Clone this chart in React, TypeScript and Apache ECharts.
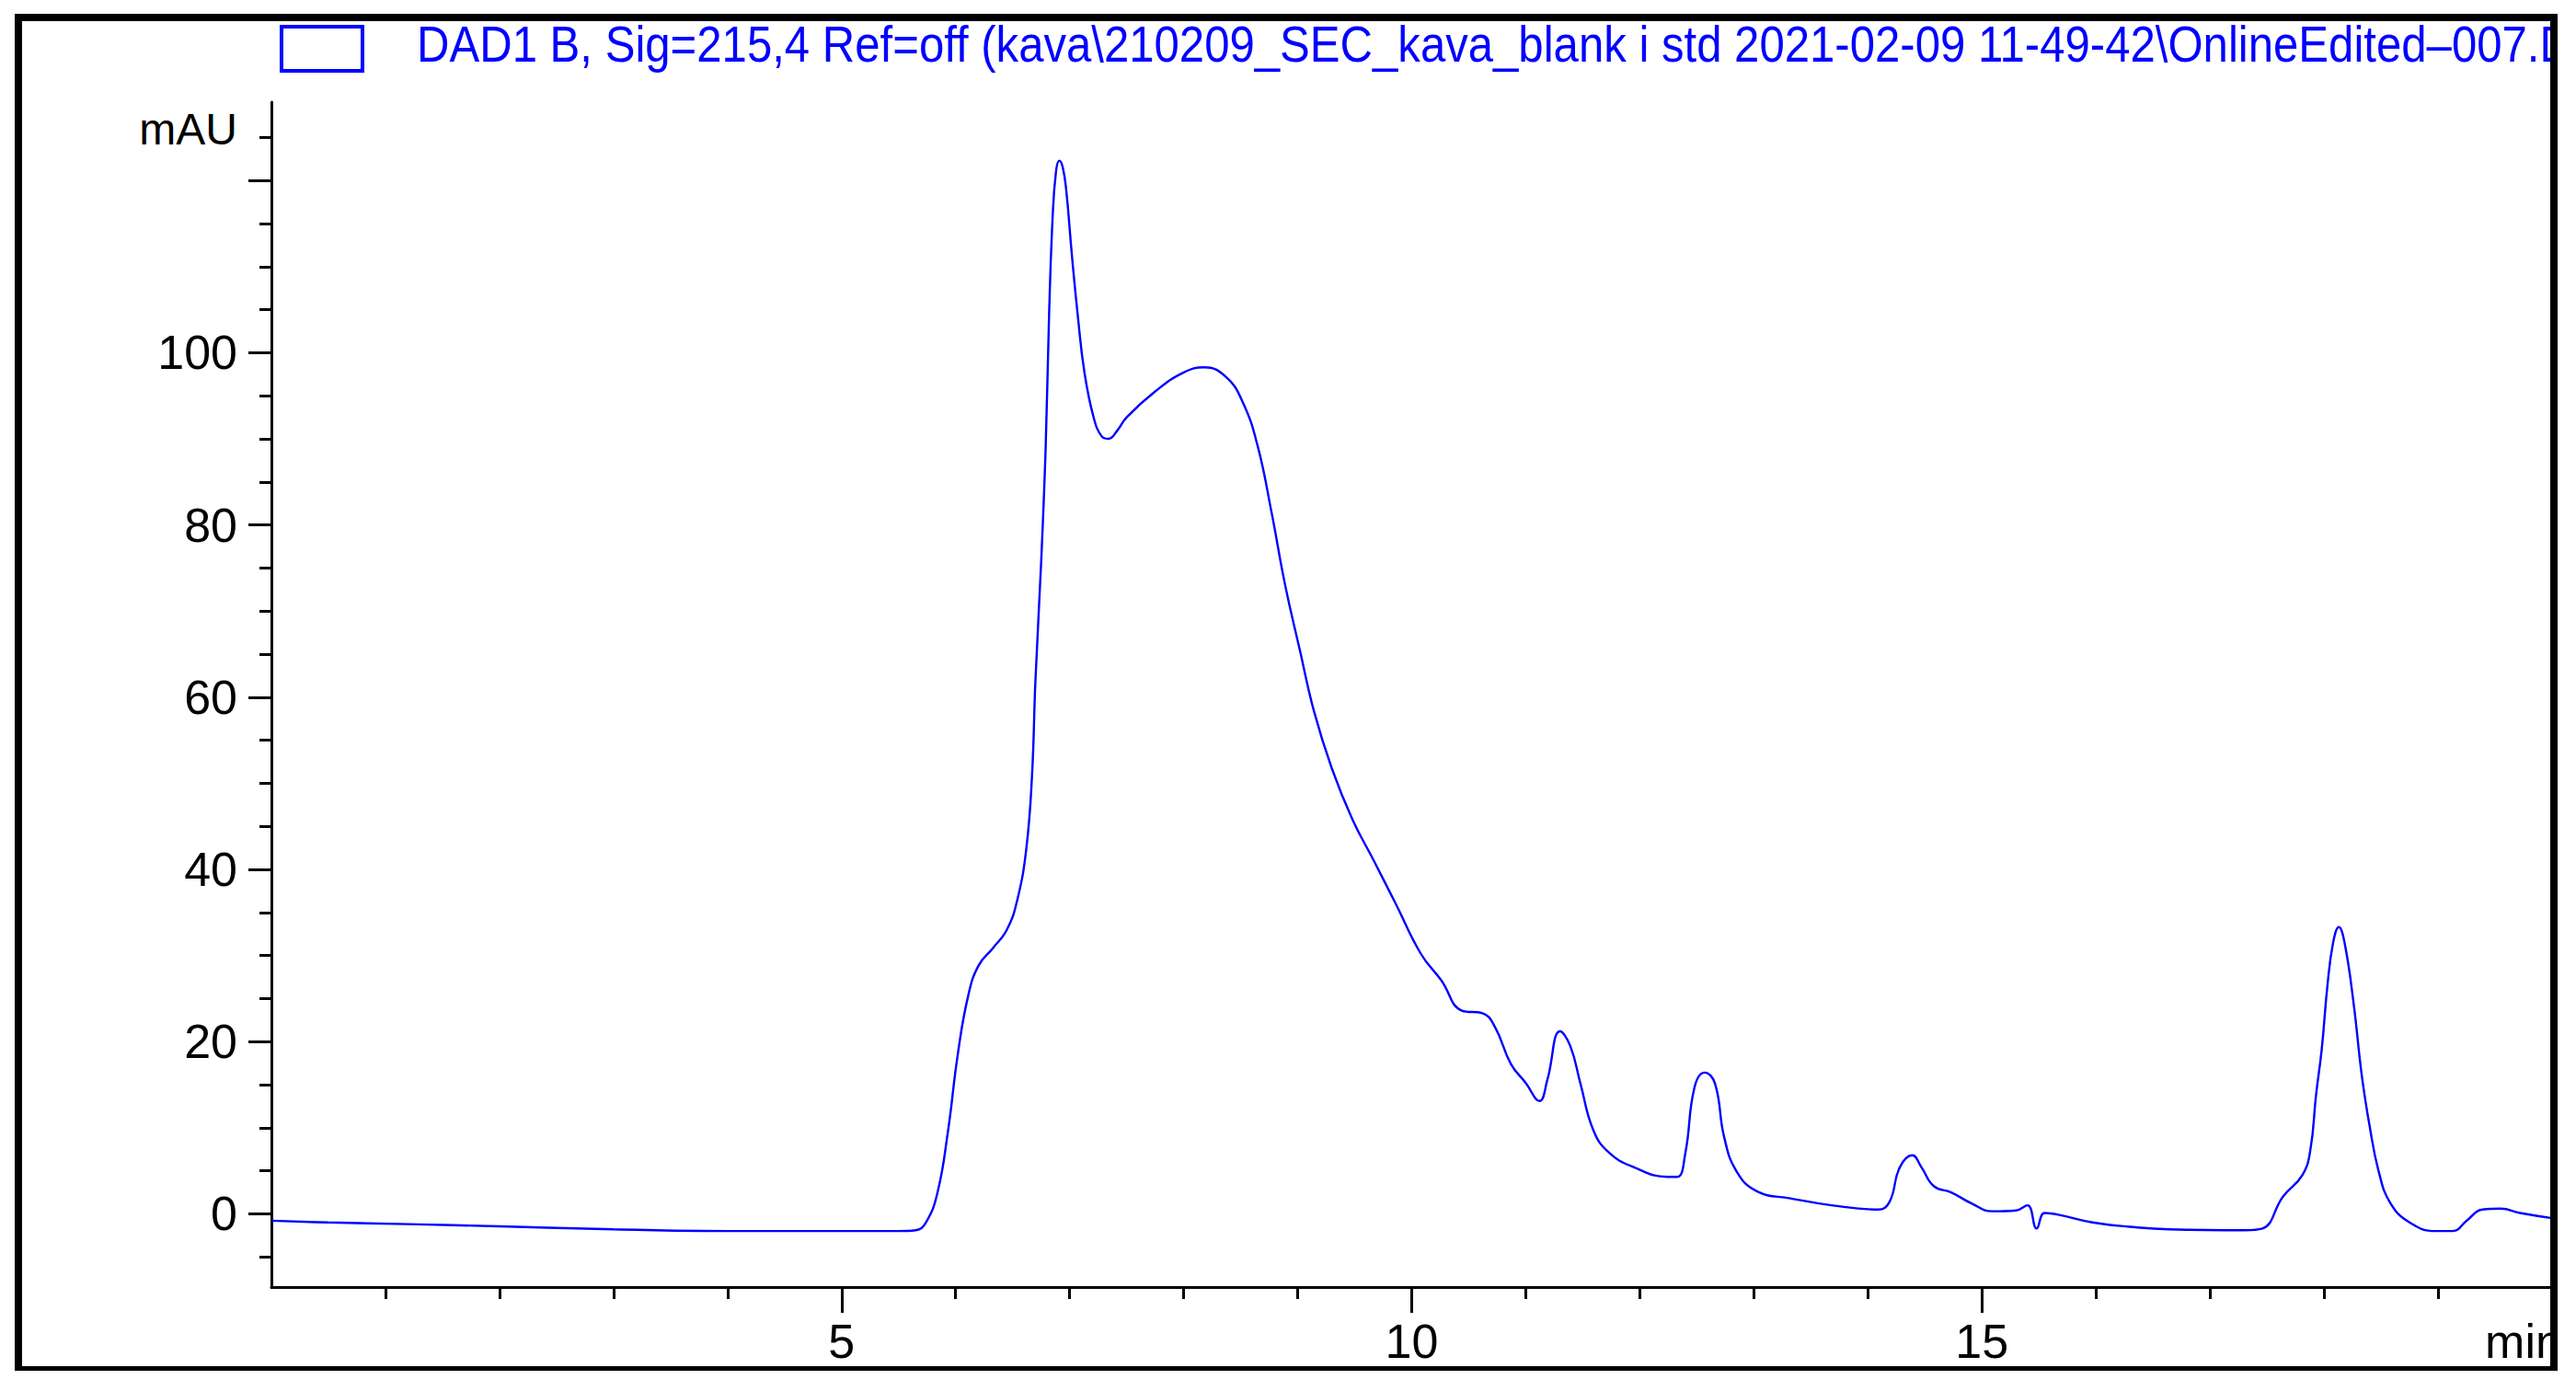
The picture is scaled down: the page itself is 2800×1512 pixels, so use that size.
import React, { useEffect, useRef } from "react";
import * as echarts from "echarts";

// Retention time (min) and detector response (mAU)
const retentionTime = [
  0.0, 0.5, 1.2, 2.0, 3.0, 4.0, 5.0, 5.5, 5.65, 5.74, 5.84, 5.93, 6.02, 6.11, 6.2, 6.33, 6.45, 6.54,
  6.62, 6.67, 6.7, 6.75, 6.79, 6.82, 6.85, 6.88, 6.91, 6.94, 6.97, 7.02, 7.07, 7.13, 7.21, 7.28,
  7.34, 7.42, 7.5, 7.75, 8.0, 8.18, 8.37, 8.52, 8.65, 8.77, 8.89, 9.02, 9.14, 9.3, 9.48, 9.66,
  9.86, 10.08, 10.26, 10.44, 10.62, 10.73, 10.87, 11.0, 11.12, 11.19, 11.3, 11.39, 11.48, 11.59,
  11.73, 11.95, 12.24, 12.33, 12.4, 12.48, 12.57, 12.66, 12.74, 12.85, 13.03, 13.32, 13.68, 14.09,
  14.19, 14.28, 14.39, 14.47, 14.58, 14.73, 14.91, 15.09, 15.3, 15.4, 15.48, 15.55, 15.67, 15.97,
  16.3, 16.64, 17.31, 17.46, 17.64, 17.81, 17.88, 17.93, 17.98, 18.03, 18.08, 18.13, 18.18, 18.26,
  18.33, 18.4, 18.48, 18.58, 18.75, 18.98, 19.13, 19.25, 19.39, 19.55, 19.72, 20.0,
];
const absorbance = [
  -0.8, -1.0, -1.2, -1.45, -1.8, -2.0, -2.0, -2.0, -1.9, -1.0, 2.4, 9.3, 18.6, 25.3, 28.8, 30.9, 33.0, 36.4,
  42.4, 50.9, 61.9, 75.6, 89.1, 104.5, 115.5, 121.0, 122.3, 121.5, 118.9, 111.3, 104.5, 97.7, 92.5, 90.3,
  90.0, 91.0, 92.5, 95.5, 97.7, 98.3, 97.2, 94.2, 89.1, 81.5, 73.0, 65.4, 58.5, 51.7, 45.8, 41.2,
  36.0, 30.2, 27.1, 23.6, 23.3, 21.7, 17.4, 15.2, 13.1, 15.6, 21.2, 19.5, 15.1, 9.8,
  7.1, 5.4, 4.3, 4.3, 7.1, 14.7, 16.4, 15.1, 8.9, 4.9, 2.6, 1.8, 1.0, 0.5,
  1.4, 5.4, 6.8, 5.4, 3.2, 2.5, 1.2, 0.3, 0.4, 1.0, -1.7, 0.1, -0.1, -1.0,
  -1.5, -1.8, -1.9, -1.7, 2.0, 4.5, 7.4, 13.8, 19.1, 26.5, 31.5, 33.3, 31.5, 24.4,
  16.2, 10.2, 4.9, 1.3, -1.0, -2.0, -2.0, -0.8, 0.5, 0.6, 0.1, -0.5,
];

// Axis ticks and labels
const yMajorTicks = [0, 20, 40, 60, 80, 100, 120];
const yMinorTicks = [-5, 5, 10, 15, 25, 30, 35, 45, 50, 55, 65, 70, 75, 85, 90, 95, 105, 110, 115, 125];
const yLabelValues = [0, 20, 40, 60, 80, 100, 126];
const xMajorTicks = [5, 10, 15];
const xMinorTicks = [1, 2, 3, 4, 6, 7, 8, 9, 11, 12, 13, 14, 16, 17, 18, 19];
const xLabelValues = [5, 10, 15, 19.75];
const yUnit = "mAU";
const xUnit = "min";
const yRange = [-8.5, 129.1];
const xRange = [0, 20];
const signalTitle =
  "DAD1 B, Sig=215,4 Ref=off (kava\\210209_SEC_kava_blank i std 2021-02-09 11-49-42\\OnlineEdited–007.D";

const FONT = "'Liberation Sans', Arial, Helvetica, sans-serif";
const BLUE = "#0000ff";

export default function App() {
  const ref = useRef<HTMLDivElement>(null);

  useEffect(() => {
    document.body.style.margin = "0";
    const chart = echarts.init(ref.current!, null, { renderer: "svg" });
    const seriesData = retentionTime.map((t, i) => [t, absorbance[i]]);

    const baseAxisLabel = {
      color: "#000",
      fontSize: 52,
      fontFamily: FONT,
    };

    chart.setOption({
      animation: false,
      backgroundColor: "#ffffff",
      grid: {
        left: 295,
        top: 111,
        right: 26,
        bottom: 113,
        containLabel: false,
        outerBoundsMode: "none",
      },
      xAxis: [
        {
          type: "value",
          min: xRange[0],
          max: xRange[1],
          position: "bottom",
          axisLine: { show: true, onZero: false, lineStyle: { color: "#000", width: 3 } },
          axisTick: {
            show: true,
            length: 28,
            customValues: xMajorTicks,
            lineStyle: { color: "#000", width: 3 },
          },
          axisLabel: {
            ...baseAxisLabel,
            margin: 33,
            customValues: xLabelValues,
            formatter: (v: number) => (v > 19 ? xUnit : String(v)),
          },
          splitLine: { show: false },
        },
        {
          type: "value",
          min: xRange[0],
          max: xRange[1],
          position: "bottom",
          axisLine: { show: false, onZero: false },
          axisTick: {
            show: true,
            length: 13,
            customValues: xMinorTicks,
            lineStyle: { color: "#000", width: 3 },
          },
          axisLabel: { show: false },
          splitLine: { show: false },
        },
      ],
      yAxis: [
        {
          type: "value",
          min: yRange[0],
          max: yRange[1],
          position: "left",
          axisLine: { show: true, onZero: false, lineStyle: { color: "#000", width: 3 } },
          axisTick: {
            show: true,
            length: 25,
            customValues: yMajorTicks,
            lineStyle: { color: "#000", width: 3 },
          },
          axisLabel: {
            ...baseAxisLabel,
            margin: 37,
            customValues: yLabelValues,
            formatter: (v: number) => (v > 120 ? "{u|" + yUnit + "}" : String(v)),
            rich: { u: { fontSize: 48, fontFamily: FONT, color: "#000" } },
          },
          splitLine: { show: false },
        },
        {
          type: "value",
          min: yRange[0],
          max: yRange[1],
          position: "left",
          axisLine: { show: false, onZero: false },
          axisTick: {
            show: true,
            length: 13,
            customValues: yMinorTicks,
            lineStyle: { color: "#000", width: 3 },
          },
          axisLabel: { show: false },
          splitLine: { show: false },
        },
      ],
      series: [
        {
          name: signalTitle,
          type: "line",
          xAxisIndex: 0,
          yAxisIndex: 0,
          data: seriesData,
          showSymbol: false,
          smooth: 0.45,
          lineStyle: { color: BLUE, width: 2.4 },
          itemStyle: { color: BLUE },
        },
      ],
      graphic: [
        {
          type: "rect",
          z: 100,
          shape: { x: 306, y: 29, width: 88, height: 48 },
          style: { fill: "#ffffff", stroke: BLUE, lineWidth: 4 },
        },
        {
          type: "text",
          z: 100,
          x: 453,
          y: 47,
          scaleX: 0.8765,
          scaleY: 1,
          style: {
            text: signalTitle,
            fill: BLUE,
            fontSize: 56,
            fontFamily: FONT,
            align: "left",
            verticalAlign: "middle",
            textAlign: "left",
            textVerticalAlign: "middle",
          },
        },
        // white margin outside the frame (clips overflowing text)
        { type: "rect", z: 110, shape: { x: 2780, y: 0, width: 20, height: 1512 }, style: { fill: "#ffffff" } },
        // outer frame
        { type: "rect", z: 120, shape: { x: 16, y: 15, width: 2764, height: 8 }, style: { fill: "#000" } },
        { type: "rect", z: 120, shape: { x: 16, y: 1485, width: 2764, height: 5 }, style: { fill: "#000" } },
        { type: "rect", z: 120, shape: { x: 16, y: 15, width: 8, height: 1475 }, style: { fill: "#000" } },
        { type: "rect", z: 120, shape: { x: 2772, y: 15, width: 8, height: 1475 }, style: { fill: "#000" } },
      ],
    });

    return () => chart.dispose();
  }, []);

  return (
    <div
      ref={ref}
      style={{ position: "absolute", left: 0, top: 0, width: 2800, height: 1512, background: "#fff" }}
    />
  );
}
